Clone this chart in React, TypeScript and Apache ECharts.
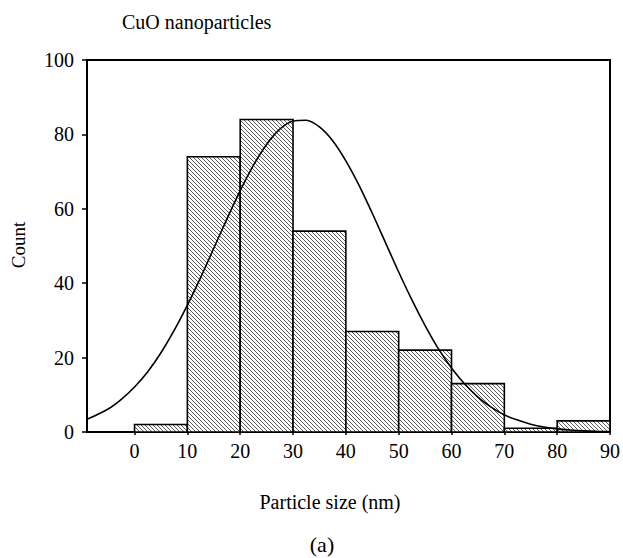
import React, { useEffect, useRef } from "react";
import * as echarts from "echarts";

const binStarts = [0, 10, 20, 30, 40, 50, 60, 70, 80];
const binEnds = [10, 20, 30, 40, 50, 60, 70, 80, 90];
const counts = [2, 74, 84, 54, 27, 22, 13, 1, 3];

const curveX = [
  -9, -5, -2.5, 0, 2.5, 5, 7.5, 10, 12.5, 15, 17.5, 20, 22.5, 25, 27.5, 30, 32.5, 35, 37.5, 40,
  42.5, 45, 47.5, 50, 52.5, 55, 57.5, 60, 62.5, 65, 67.5, 70, 72.5, 75, 77.5, 80, 82.5, 85, 87.5, 90,
];
const curveY = [
  3.4, 6.2, 8.8, 12.1, 16.2, 21.3, 27.3, 34.1, 41.5, 49.4, 57.3, 64.9, 71.7, 77.3, 81.4, 83.6, 83.8, 82.0, 78.3, 72.9,
  66.3, 58.8, 50.9, 43.0, 35.5, 28.6, 22.4, 17.2, 12.9, 9.4, 6.7, 4.6, 3.2, 2.1, 1.35, 0.85, 0.52, 0.31, 0.18, 0.1,
];

const xTicks = [0, 10, 20, 30, 40, 50, 60, 70, 80, 90];
const yTicks = [0, 20, 40, 60, 80, 100];

const FONT = "Liberation Serif";

export default function App() {
  const ref = useRef<HTMLDivElement>(null);
  useEffect(() => {
    if (!ref.current) return;
    const chart = echarts.init(ref.current, null, { renderer: "svg" });
    const barData = binStarts.map((s, i) => [s, binEnds[i], counts[i]]);
    const lineData = curveX.map((x, i) => [x, curveY[i]]);
    chart.setOption({
      animation: false,
      backgroundColor: "#fff",
      textStyle: { fontFamily: FONT, color: "#000" },
      grid: {
        left: 87,
        right: 11,
        top: 60,
        bottom: 126,
        show: true,
        borderColor: "#000",
        borderWidth: 2,
        backgroundColor: "transparent",
      },
      xAxis: {
        type: "value",
        min: -9,
        max: 90,
        axisLine: { show: true, onZero: false, lineStyle: { color: "#000", width: 2 } },
        axisTick: { show: true, length: 3, inside: false, customValues: xTicks, lineStyle: { color: "#000", width: 1.5 } },
        axisLabel: { customValues: xTicks, margin: 9, fontSize: 20, fontFamily: FONT, color: "#000" },
        splitLine: { show: false },
      },
      yAxis: {
        type: "value",
        min: 0,
        max: 100,
        interval: 20,
        axisLine: { show: true, onZero: false, lineStyle: { color: "#000", width: 2 } },
        axisTick: { show: true, length: 5, inside: false, customValues: yTicks, lineStyle: { color: "#000", width: 1.5 } },
        axisLabel: { customValues: yTicks, margin: 13, fontSize: 20, fontFamily: FONT, color: "#000" },
        splitLine: { show: false },
      },
      graphic: [
        {
          type: "text",
          x: 122,
          y: 22,
          style: { text: "CuO nanoparticles", fontSize: 20, fontFamily: FONT, fill: "#000", textAlign: "left", textVerticalAlign: "middle" },
        },
        {
          type: "text",
          x: 330,
          y: 502,
          style: { text: "Particle size (nm)", fontSize: 20, fontFamily: FONT, fill: "#000", textAlign: "center", textVerticalAlign: "middle" },
        },
        {
          type: "text",
          x: 322,
          y: 544,
          style: { text: "(a)", fontSize: 22, fontFamily: FONT, fill: "#000", textAlign: "center", textVerticalAlign: "middle" },
        },
        {
          type: "text",
          x: 18,
          y: 245,
          rotation: Math.PI / 2,
          style: { text: "Count", fontSize: 19, fontFamily: FONT, fill: "#000", textAlign: "center", textVerticalAlign: "middle" },
        },
      ],
      series: [
        {
          type: "custom",
          data: barData,
          encode: { x: [0, 1], y: 2 },
          z: 2,
          renderItem: (params: any, api: any) => {
            const x0 = api.value(0);
            const x1 = api.value(1);
            const h = api.value(2);
            const tl = api.coord([x0, h]);
            const br = api.coord([x1, 0]);
            const L = tl[0], T = tl[1], R = br[0], B = br[1];
            const children: any[] = [];
            children.push({
              type: "rect",
              shape: { x: L, y: T, width: R - L, height: B - T },
              style: { fill: "#fff" },
            });
            const s = 4;
            const cMin = Math.floor((T - R) / s) * s;
            const cMax = B - L;
            for (let c = cMin; c <= cMax; c += s) {
              const xa = Math.max(L, T - c);
              const xb = Math.min(R, B - c);
              if (xb - xa > 0.3) {
                children.push({
                  type: "line",
                  shape: { x1: xa, y1: xa + c, x2: xb, y2: xb + c },
                  style: { stroke: "#5a5a5a", lineWidth: 1 },
                });
              }
            }
            children.push({
              type: "rect",
              shape: { x: L, y: T, width: R - L, height: B - T },
              style: { fill: "none", stroke: "#000", lineWidth: 1.6 },
            });
            return { type: "group", children };
          },
        },
        {
          type: "line",
          data: lineData,
          smooth: 0.3,
          showSymbol: false,
          symbol: "none",
          z: 5,
          lineStyle: { color: "#000", width: 1.6 },
        },
      ],
    });
    return () => chart.dispose();
  }, []);
  return (
    <div
      ref={ref}
      style={{ position: "absolute", left: 0, top: 0, width: 623, height: 558, background: "#fff" }}
    />
  );
}
